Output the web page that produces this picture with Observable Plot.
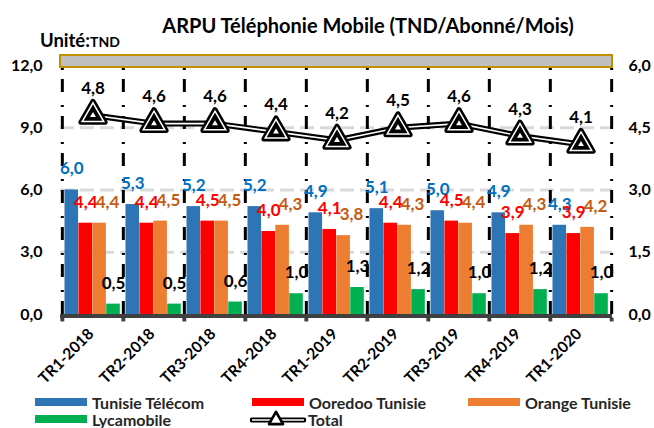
<!DOCTYPE html>
<html>
<head>
<meta charset="utf-8">
<script src="https://cdn.jsdelivr.net/npm/d3@7"></script>
<script src="https://cdn.jsdelivr.net/npm/@observablehq/plot@0.6"></script>
<style>
  body { margin: 0; background: #fff; }
  #chart { position: relative; width: 654px; height: 428px; font-family: Lato, "Open Sans", sans-serif; color: #000; overflow: hidden; }
  #chart svg.plot { position: absolute; left: 0; top: 0; }
  .title { position: absolute; left: 368px; transform: translateX(-50%); top: 13px; line-height: 24px; white-space: nowrap; font-weight: bold; font-size: 20px; }
  .unit { position: absolute; left: 40px; top: 29px; line-height: 22px; font-weight: bold; font-size: 18.5px; }
  .unit small { font-size: 14px; }
  .leg { position: absolute; display: flex; align-items: center; height: 18px; font-size: 16px; font-weight: bold; color: #262626; white-space: nowrap; }
  .sw { width: 52px; height: 8px; margin-right: 5px; }
</style>
</head>
<body>
<div id="chart">
  <div class="title">ARPU Téléphonie Mobile (TND/Abonné/Mois)</div>
  <div class="unit">Unité:<small>TND</small></div>
</div>
<script>
const quarters = ["TR1-2018","TR2-2018","TR3-2018","TR4-2018","TR1-2019","TR2-2019","TR3-2019","TR4-2019","TR1-2020"];
const tunisieTelecom = [6.0,5.3,5.2,5.2,4.9,5.1,5.0,4.9,4.3];
const ooredooTunisie = [4.4,4.4,4.5,4.0,4.1,4.4,4.5,3.9,3.9];
const orangeTunisie = [4.4,4.5,4.5,4.3,3.8,4.3,4.4,4.3,4.2];
const lycamobile = [0.5,0.5,0.6,1.0,1.3,1.2,1.0,1.2,1.0];
const total = [4.8,4.6,4.6,4.4,4.2,4.5,4.6,4.3,4.1];
const leftTicks = [0,3,6,9,12];
const rightTicks = [0,1.5,3,4.5,6];
const seriesNames = ["Tunisie Télécom","Ooredoo Tunisie","Orange Tunisie","Lycamobile"];
const seriesColors = ["#2E75B6","#FF0000","#ED7D31","#00B050"];
const labelColors = ["#0070C0","#FF0000","#C55A11","#000000"];

const fmt = v => v.toFixed(1).replace(".", ",");
const ratio = leftTicks[leftTicks.length-1] / rightTicks[rightTicks.length-1];

const seriesValues = [tunisieTelecom, ooredooTunisie, orangeTunisie, lycamobile];
const rows = quarters.map((q, i) => ({q, total: total[i], v: seriesValues.map(s => s[i])}));

const W = 654, H = 428, mL = 60, mR = 42, mT = 65, mB = 114;
const bw = (W - mL - mR) / quarters.length;
const pad = 2.5, barW = (bw - 5.7) / 4;

const marks = [];
// top gray band
marks.push(Plot.rect([leftTicks[leftTicks.length-1]], {y1: d => d, y2: d => d, insetTop: -10, insetBottom: -2, fill: "#BFBFBF", stroke: "#BF9000", strokeWidth: 2}));
// gridlines
marks.push(Plot.ruleY(leftTicks.slice(1, -1), {stroke: "#D9D9D9", strokeWidth: 3, strokeDasharray: "14,6"}));
// vertical separators
marks.push(Plot.ruleX(quarters, {x: d => d, dx: -bw/2, y1: 0, y2: 12, stroke: "#000", strokeWidth: 3, strokeDasharray: "13,9,2,13"}));
marks.push(Plot.ruleX(quarters.slice(-1), {x: d => d, dx: bw/2, y1: 0, y2: 12, stroke: "#000", strokeWidth: 3, strokeDasharray: "13,9,2,13"}));
// bars
seriesValues.forEach((s, k) => {
  marks.push(Plot.barY(rows, {x: "q", y: d => d.v[k], fill: seriesColors[k],
    insetLeft: pad + k*barW, insetRight: bw - pad - (k+1)*barW}));
});
// baseline
marks.push(Plot.ruleY([0], {stroke: "#404040", strokeWidth: 4, dy: 1.5}));
marks.push(Plot.dot(quarters, {x: d => d, y: () => 0, dx: -bw/2, dy: 5, symbol: "square", r: 2.2, fill: "#404040"}));
marks.push(Plot.dot(quarters.slice(-1), {x: d => d, y: () => 0, dx: bw/2, dy: 5, symbol: "square", r: 2.2, fill: "#404040"}));
// total line
marks.push(Plot.line(rows, {x: "q", y: d => d.total*ratio, stroke: "#000", strokeWidth: 6}));
marks.push(Plot.line(rows, {x: "q", y: d => d.total*ratio, stroke: "#fff", strokeWidth: 1.6}));
marks.push(Plot.dot(rows, {x: "q", y: d => d.total*ratio, symbol: "triangle", r: 9, fill: "#000", stroke: "#000", strokeWidth: 5, strokeLinejoin: "round"}));
marks.push(Plot.dot(rows, {x: "q", y: d => d.total*ratio, symbol: "triangle", r: 8, fill: "#000", stroke: "#fff", strokeWidth: 1.5}));
marks.push(Plot.dot(rows, {x: "q", y: d => d.total*ratio, symbol: "triangle", r: 2.2, fill: "#fff"}));
// labels
seriesValues.forEach((s, k) => {
  const extra = k === 2 ? 8 : 0;
  marks.push(Plot.text(rows, {x: "q", y: d => d.v[k], text: d => fmt(d.v[k]),
    dx: -bw/2 + pad + (k+0.5)*barW + extra, dy: -21, fill: labelColors[k], fontSize: 17, fontWeight: "bold", letterSpacing: "-0.5px"}));
});
marks.push(Plot.text(rows, {x: "q", y: d => d.total*ratio, text: d => fmt(d.total), dy: -27, fill: "#000", fontSize: 17, fontWeight: "bold"}));
// axes
marks.push(Plot.axisY(leftTicks, {anchor: "left", label: null, tickSize: 0, tickPadding: 18, tickFormat: fmt, fontSize: 16, fontWeight: "bold"}));
marks.push(Plot.axisY(rightTicks.map(t => t*ratio), {anchor: "right", label: null, tickSize: 0, tickPadding: 16, tickFormat: d => fmt(d/ratio), fontSize: 16, fontWeight: "bold"}));
marks.push(Plot.axisX(quarters, {label: null, tickSize: 0, tickPadding: 17, tickRotate: -45, dx: -2, fontSize: 15.5, fontWeight: "bold"}));

const svg = Plot.plot({
  width: W, height: H,
  marginLeft: mL, marginRight: mR, marginTop: mT, marginBottom: mB,
  style: {fontFamily: "Lato, sans-serif", color: "#000", background: "transparent", overflow: "visible"},
  x: {type: "band", domain: quarters, padding: 0, axis: null, label: null},
  y: {domain: [0, 12], axis: null, label: null},
  marks
});
svg.classList.add("plot");
const chart = document.getElementById("chart");
chart.insertBefore(svg, chart.firstChild);

// legend
const legendItems = [
  {name: seriesNames[0], color: seriesColors[0], x: 35, y: 393},
  {name: seriesNames[1], color: seriesColors[1], x: 252, y: 393},
  {name: seriesNames[2], color: seriesColors[2], x: 468, y: 393},
  {name: seriesNames[3], color: seriesColors[3], x: 35, y: 410},
  {name: "Total", color: null, x: 250, y: 410}
];
legendItems.forEach(it => {
  const div = document.createElement("div");
  div.className = "leg";
  div.style.left = it.x + "px";
  div.style.top = it.y + "px";
  if (it.color) {
    const sw = document.createElement("div");
    sw.className = "sw";
    sw.style.background = it.color;
    div.appendChild(sw);
  } else {
    const ns = "http://www.w3.org/2000/svg";
    const s = document.createElementNS(ns, "svg");
    s.setAttribute("width", 56); s.setAttribute("height", 18);
    s.style.marginRight = "2px";
    s.innerHTML = '<line x1="2" y1="10" x2="54" y2="10" stroke="#000" stroke-width="5" stroke-linecap="round"/>' +
      '<line x1="2" y1="10" x2="54" y2="10" stroke="#fff" stroke-width="1.4"/>' +
      '<path d="' + d3.symbol(d3.symbolTriangle, 80)() + '" transform="translate(26,10)" fill="#000" stroke="#000" stroke-width="3" stroke-linejoin="round"/>' +
      '<path d="' + d3.symbol(d3.symbolTriangle, 60)() + '" transform="translate(26,10)" fill="#fff" stroke="#000" stroke-width="1.2"/>';
    div.appendChild(s);
  }
  const t = document.createElement("span");
  t.textContent = it.name;
  div.appendChild(t);
  chart.appendChild(div);
});
</script>
</body>
</html>
